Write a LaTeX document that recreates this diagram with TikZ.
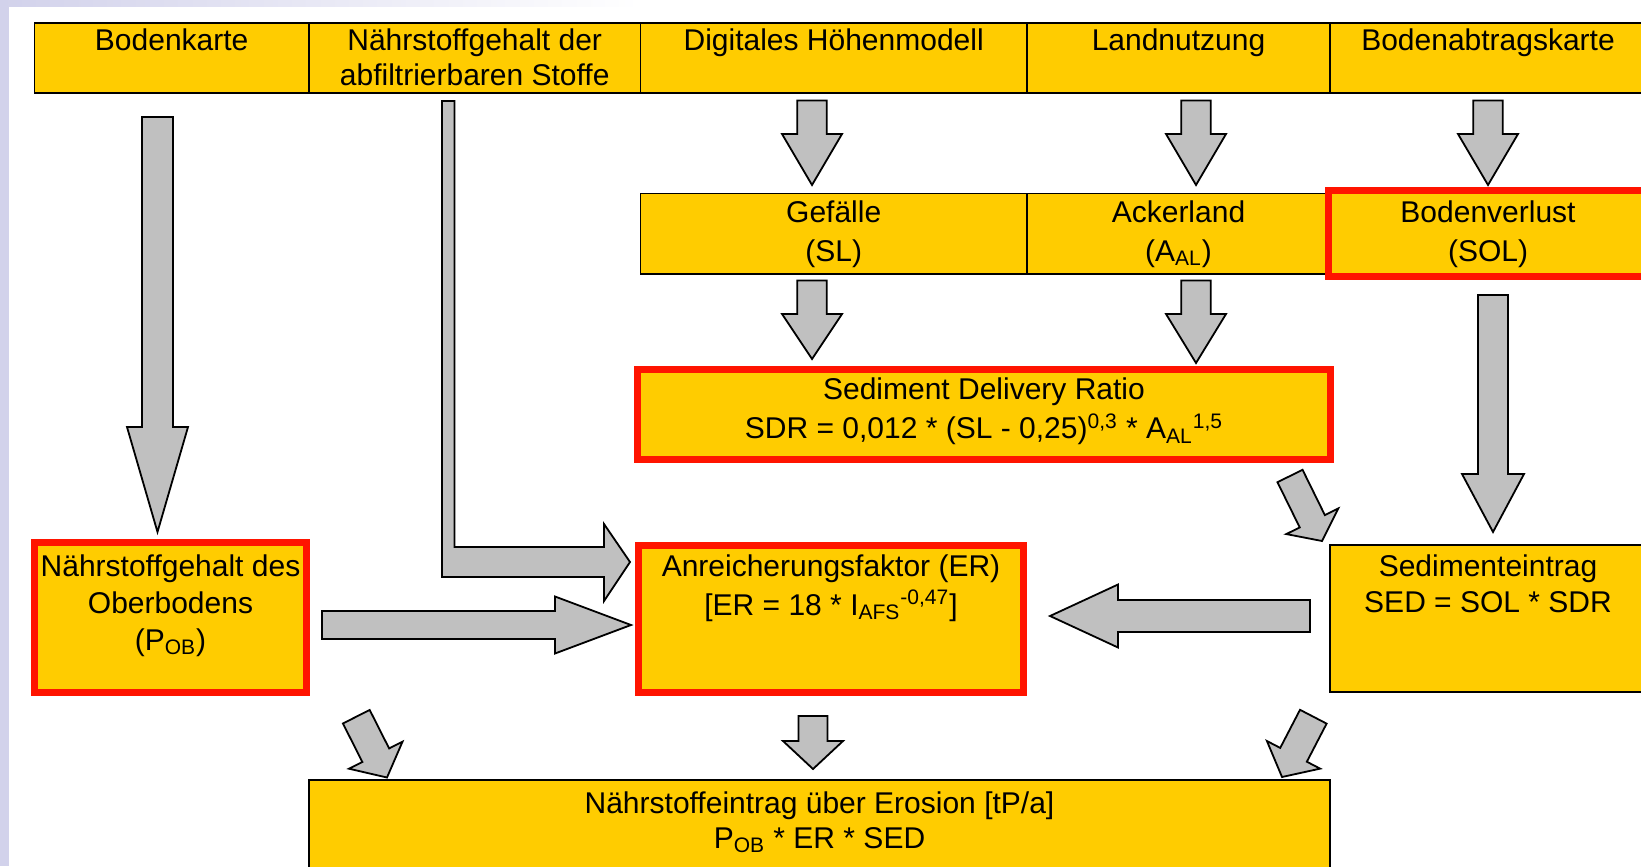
\documentclass[tikz,border=0pt]{standalone}
\usepackage{fontspec}
\setmainfont{Liberation Sans}
\usetikzlibrary{calc}
\definecolor{boxyellow}{HTML}{FFCC00}
\definecolor{boxred}{HTML}{FF1400}
\definecolor{arrgray}{HTML}{C0C0C0}
\definecolor{lav}{HTML}{D2D2EB}
\newcommand{\mlines}[1]{\begin{tabular}[t]{@{}c@{}}#1\end{tabular}}
\newcommand{\cellnode}[5]{\node[cell, minimum width={(#4-#2)*0.5pt}, minimum height={(#5-#3)*0.5pt}] (#1) at ({(#2+#4)/2},{(#3+#5)/2}) {};}
\newcommand{\blockarr}[5]{%
  \coordinate (hb) at ($(#2)!{#5*0.5pt}!(#1)$);
  \draw[barrow] ($(#1)!{#3*0.25pt}!90:(#2)$) -- ($(hb)!{#3*0.25pt}!90:(#2)$) -- ($(hb)!{#4*0.25pt}!90:(#2)$) -- (#2) -- ($(hb)!{#4*0.25pt}!-90:(#2)$) -- ($(hb)!{#3*0.25pt}!-90:(#2)$) -- ($(#1)!{#3*0.25pt}!-90:(#2)$) -- cycle;}
\begin{document}
\begin{tikzpicture}[x=0.5pt,y=-0.5pt,
  cell/.style={draw=black, line width=0.8pt, fill=boxyellow, inner sep=0pt},
  redframe/.style={draw=boxred, line width=3.5pt},
  barrow/.style={draw=black, line width=0.9pt, fill=arrgray, line join=miter},
  txt/.style={anchor=base, inner sep=0pt, font=\fontsize{15}{18}\selectfont},
]
\useasboundingbox (0,0) rectangle (1641,866);
% background
\fill[white] (0,0) rectangle (1641,866);
\fill[lav] (0,0) rectangle (9,866);
\shade[left color=lav, right color=white] (0,0) rectangle (640,7);
\begin{scope}
\clip (0,0) rectangle (1641,866);
% top row
\cellnode{c1}{34.5}{23}{309}{93}
\cellnode{c2}{309}{23}{640.5}{93}
\cellnode{c3}{640.5}{23}{1027}{93}
\cellnode{c4}{1027}{23}{1330}{93}
\cellnode{c5}{1330}{23}{1646}{93}
% second row
\cellnode{gef}{640.5}{193.6}{1027}{274}
\cellnode{ack}{1027}{193.6}{1330}{274}
\cellnode{sol}{1330}{193.6}{1646}{274}
% SDR
\cellnode{sdr}{637.5}{369.5}{1330.5}{459.5}
% third row
\cellnode{pob}{34.5}{542.5}{306.5}{692.5}
\cellnode{er}{638.5}{545.5}{1023.5}{692.5}
\cellnode{sed}{1330}{545}{1646}{692}
% bottom
\cellnode{res}{309}{780}{1330}{875}
% red frames
\draw[redframe] (1328.5,190.5) rectangle (1650,276.5);
\draw[redframe] (637.5,369.5) rectangle (1330.5,459.5);
\draw[redframe] (34.5,542.5) rectangle (306.5,692.5);
\draw[redframe] (638.5,545.5) rectangle (1023.5,692.5);
\end{scope}
% texts
\node[txt] (t1) at (171.7,51) {Bodenkarte};
\node[txt, font=\fontsize{15}{17.5}\selectfont] (t2) at (474.7,51) {\mlines{Nährstoffgehalt der\\abfiltrierbaren Stoffe}};
\node[txt] (t3) at (833.7,51) {Digitales Höhenmodell};
\node[txt] (t4) at (1178.5,51) {Landnutzung};
\node[txt] (t5) at (1488,51) {Bodenabtragskarte};
\node[txt, font=\fontsize{15}{19.5}\selectfont] (tgef) at (833.7,222) {\mlines{Gefälle\\(SL)}};
\node[txt, font=\fontsize{15}{19.5}\selectfont] (tack) at (1178.5,222) {\mlines{Ackerland\\(A\textsubscript{AL})}};
\node[txt, font=\fontsize{15}{19.5}\selectfont] (tsol) at (1488,222) {\mlines{Bodenverlust\\(SOL)}};
\node[txt, font=\fontsize{15}{19.75}\selectfont] (tsdr) at (984,399) {\mlines{Sediment Delivery Ratio\\SDR = 0,012 * (SL - 0,25)\textsuperscript{0,3} * A\textsubscript{AL}\textsuperscript{1,5}}};
\node[txt, font=\fontsize{15}{18.5}\selectfont] (tpob) at (170.5,576) {\mlines{Nährstoffgehalt des\\Oberbodens\\(P\textsubscript{OB})}};
\node[txt, font=\fontsize{15}{19.5}\selectfont] (ter) at (831,576) {\mlines{Anreicherungsfaktor (ER)\\{}[ER = 18 * I\textsubscript{AFS}\textsuperscript{-0,47}]}};
\node[txt, font=\fontsize{15}{18}\selectfont] (tsed) at (1488,576) {\mlines{Sedimenteintrag\\SED = SOL * SDR}};
\node[txt, font=\fontsize{15}{17.5}\selectfont] (tres) at (819.5,813) {\mlines{Nährstoffeintrag über Erosion [tP/a]\\P\textsubscript{OB} * ER * SED}};
% arrows
\coordinate (a1s) at (157.5,117); \coordinate (a1e) at (157.5,532);
\blockarr{a1s}{a1e}{31}{61}{105}
\coordinate (a2s) at (812,100.5); \coordinate (a2e) at (812,185);
\blockarr{a2s}{a2e}{29.5}{60}{51}
\coordinate (a3s) at (1196,100.5); \coordinate (a3e) at (1196,185);
\blockarr{a3s}{a3e}{29.5}{60}{51}
\coordinate (a4s) at (1488,100.5); \coordinate (a4e) at (1488,185);
\blockarr{a4s}{a4e}{29.5}{60}{51}
\coordinate (a5s) at (812,280.5); \coordinate (a5e) at (812,359);
\blockarr{a5s}{a5e}{29.5}{60}{45}
\coordinate (a6s) at (1196,280.5); \coordinate (a6e) at (1196,363);
\blockarr{a6s}{a6e}{29.5}{60}{49}
\coordinate (a7s) at (1493,295); \coordinate (a7e) at (1493,532);
\blockarr{a7s}{a7e}{30}{62}{58}
\coordinate (a8s) at (1290,476); \coordinate (a8e) at (1322,541);
\blockarr{a8s}{a8e}{28}{58}{22}
\coordinate (a9s) at (322,625); \coordinate (a9e) at (631,625);
\blockarr{a9s}{a9e}{28}{57}{76}
\coordinate (a10s) at (1310,616); \coordinate (a10e) at (1050,616);
\blockarr{a10s}{a10e}{32}{63}{68}
\coordinate (a11s) at (356.3,716.7); \coordinate (a11e) at (387,777.5);
\blockarr{a11s}{a11e}{30}{60}{25}
\coordinate (a12s) at (813,716); \coordinate (a12e) at (813,769);
\blockarr{a12s}{a12e}{29}{60}{28}
\coordinate (a13s) at (1313.3,716.7); \coordinate (a13e) at (1282,777);
\blockarr{a13s}{a13e}{30}{60}{25}
% L-shaped arrow
\coordinate (l1) at (442,101);
\coordinate (l2) at (630,562);
\draw[barrow] (l1) -- (454.5,101) -- (454.5,547) -- (604,547) -- (604,524) -- (l2) -- (604,601) -- (604,577) -- (442,577) -- cycle;
\end{tikzpicture}
\end{document}
